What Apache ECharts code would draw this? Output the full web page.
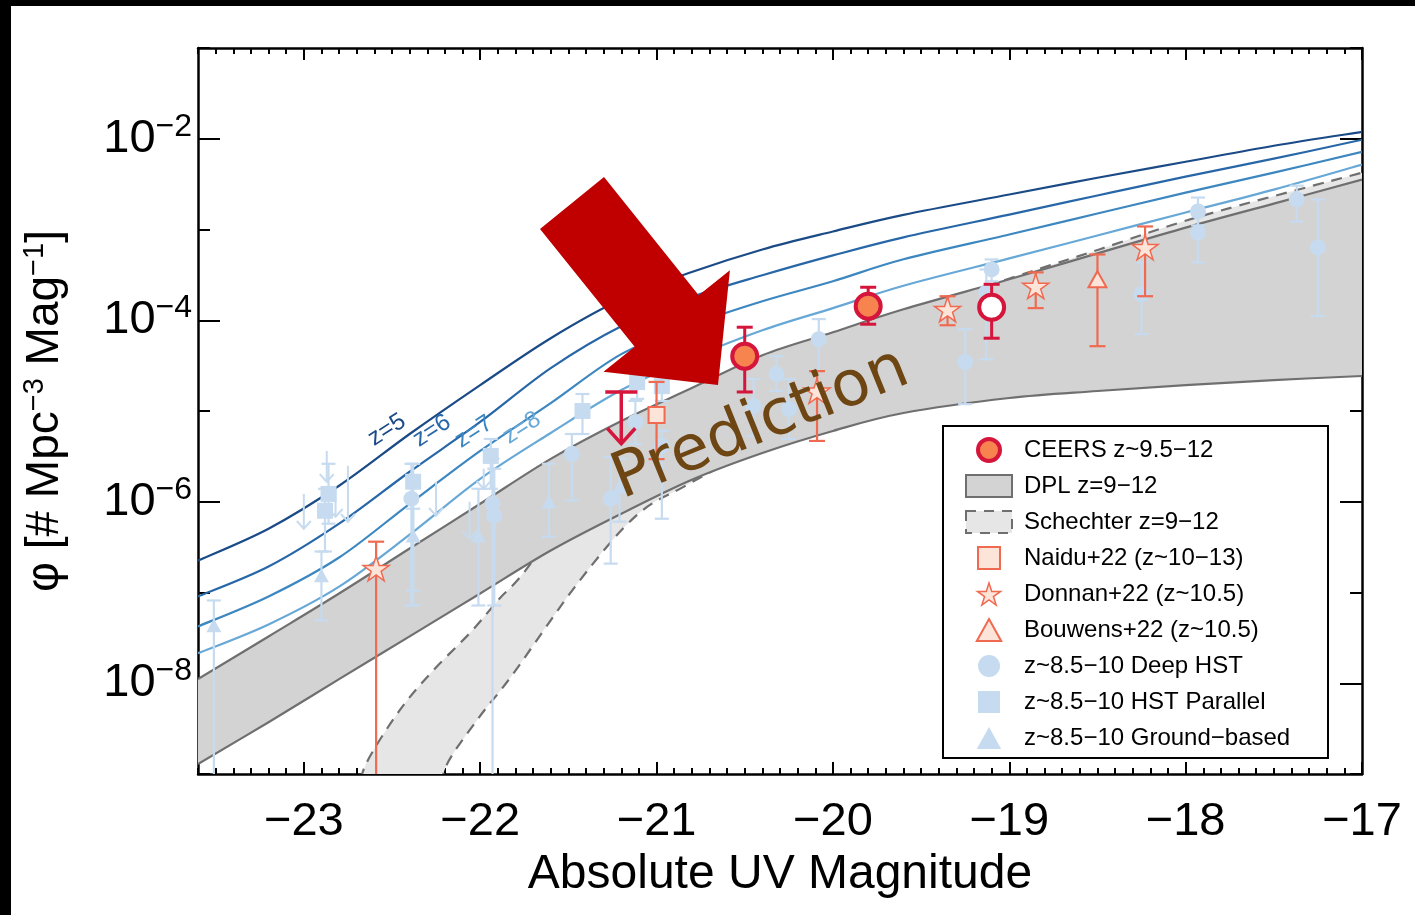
<!DOCTYPE html>
<html>
<head>
<meta charset="utf-8">
<script src="https://cdn.jsdelivr.net/npm/echarts@6/dist/echarts.min.js"></script>
<style>
  html, body { margin: 0; padding: 0; background: #fff; }
  #chart { width: 1415px; height: 915px; }
</style>
</head>
<body>
<div id="chart"></div>
<script>
// ---------------- data ----------------
// magnitude grid used by the model curves
const modelMag = [-23.6, -23.2, -22.8, -22.4, -22.0, -21.6, -21.2, -20.8, -20.4, -20.0, -19.6, -19.0, -18.5, -18.0, -17.5, -17.0];
// lower-z luminosity functions
const lfZ5 = [2.25e-7, 5.05e-7, 1.50e-6, 5.58e-6, 1.93e-5, 6.34e-5, 1.70e-4, 3.40e-4, 6.03e-4, 9.51e-4, 1.45e-3, 2.43e-3, 3.72e-3, 5.58e-3, 8.38e-3, 1.19e-2];
const lfZ6 = [9.04e-8, 1.93e-7, 5.73e-7, 2.14e-6, 7.57e-6, 2.97e-5, 8.59e-5, 1.80e-4, 3.13e-4, 5.18e-4, 8.20e-4, 1.46e-3, 2.37e-3, 3.82e-3, 6.03e-3, 9.75e-3];
const lfZ7 = [4.23e-8, 9.04e-8, 2.43e-7, 9.50e-7, 3.63e-6, 1.22e-5, 4.23e-5, 8.90e-5, 1.62e-4, 2.69e-4, 4.70e-4, 8.81e-4, 1.50e-3, 2.55e-3, 4.23e-3, 7.19e-3];
const lfZ8 = [2.14e-8, 4.45e-8, 1.16e-7, 4.34e-7, 1.79e-6, 5.73e-6, 1.70e-5, 3.85e-5, 7.76e-5, 1.36e-4, 2.40e-4, 4.80e-4, 8.59e-4, 1.54e-3, 2.75e-3, 5.18e-3];
// double power law range, z = 9-12
const dplUpper = [1.11e-8, 3.28e-8, 9.75e-8, 3.05e-7, 9.50e-7, 2.97e-6, 7.76e-6, 1.79e-5, 4.12e-5, 7.38e-5, 1.32e-4, 2.83e-4, 5.45e-4, 1.05e-3, 1.93e-3, 3.54e-3];
const dplLower = [1.29e-9, 3.72e-9, 1.11e-8, 3.28e-8, 9.75e-8, 2.90e-7, 7.38e-7, 1.75e-6, 3.45e-6, 6.03e-6, 9.50e-6, 1.39e-5, 1.66e-5, 1.93e-5, 2.19e-5, 2.43e-5];
// Schechter range, z = 9-12
const schUpperMag = [-22.69, -22.65, -22.46, -22.27, -22.05, -21.89, -21.78, -21.44, -20.76, -20.19, -19.62, -19.06, -18.77, -18.49, -17.92, -17.0];
const schUpper    = [5.44e-10, 1.26e-9, 4.92e-9, 1.36e-8, 3.72e-8, 8.59e-8, 1.43e-7, 8.38e-7, 8.17e-6, 3.72e-5, 1.08e-4, 2.62e-4, 4.02e-4, 6.03e-4, 1.39e-3, 4.23e-3];
const schLowerMag = [-22.23, -22.19, -22.01, -21.82, -21.44, -21.12, -20.85, -20.45, -19.90, -19.34, -18.49, -17.92, -17.0];
const schLower    = [5.44e-10, 1.26e-9, 4.12e-9, 1.22e-8, 1.32e-7, 6.9e-7, 1.45e-6, 3.6e-6, 8.5e-6, 1.7e-5, 4.23e-5, 7.02e-5, 1.50e-4];

// measurements: [M_UV, phi, phi_low, phi_high]
const ceers     = [[-20.5, 4.02e-5, 1.62e-5, 8.38e-5], [-19.8, 1.43e-4, 9.04e-5, 2.31e-4]];
const ceersOpen = [[-19.1, 1.39e-4, 6.34e-5, 2.49e-4]];
// upper limits: [M_UV, phi_limit, arrow_tip]
const ceersLimit = [[-21.2, 1.62e-5, 4.37e-6]];
const naidu   = [[-21.0, 9.04e-6, 2.95e-6, 2.09e-5]];
const donnan  = [[-22.59, 1.84e-7, 1e-10, 3.63e-7], [-20.09, 1.66e-5, 4.68e-6, 2.75e-5], [-19.35, 1.32e-4, 8.81e-5, 1.84e-4],
                 [-18.85, 2.37e-4, 1.36e-4, 3.37e-4], [-18.23, 6.34e-4, 1.84e-4, 1.08e-3]];
const bouwens = [[-18.5, 2.83e-4, 5.18e-5, 5.31e-4]];
const deepHST = [
  [-17.37, 2.14e-3, 1.22e-3, 3.04e-3], [-17.25, 6.34e-4, 1.11e-4, 2.14e-3], [-17.93, 1.58e-3, 1.11e-3, 2.25e-3],
  [-17.93, 9.27e-4, 4.34e-4, 1.50e-3], [-19.10, 3.63e-4, 2.69e-4, 4.68e-4], [-19.13, 2.03e-4, 3.72e-5, 3.63e-4],
  [-19.25, 3.45e-5, 1.19e-5, 7.96e-5], [-18.25, 1.93e-4, 7.02e-5, 4.34e-4], [-20.08, 6.18e-5, 2.75e-5, 1.03e-4],
  [-20.32, 2.55e-5, 1.66e-5, 4.02e-5], [-20.25, 1.05e-5, 4.92e-6, 2.25e-5], [-20.45, 1.13e-5, 5.31e-6, 2.25e-5],
  [-20.97, 4.12e-6, 6.50e-7, 6.03e-6], [-21.12, 7.57e-6, 4.34e-6, 1.29e-5], [-21.48, 3.37e-6, 1.03e-6, 5.58e-6],
  [-21.26, 1.08e-6, 2.08e-7, 3.12e-6], [-21.93, 9.50e-7, 1e-10, 2.97e-6], [-21.92, 7.02e-7, 7.19e-8, 2.31e-6],
  [-22.39, 1.08e-6, 7.19e-8, 2.62e-6]
];
const hstParallel = [
  [-22.86, 1.22e-6, 5.73e-7, 2.62e-6], [-22.88, 7.96e-7, 2.83e-7, 1.39e-6], [-22.38, 1.66e-6, 7.19e-8, 2.62e-6],
  [-21.94, 3.20e-6, 1.39e-6, 4.92e-6], [-21.42, 1.00e-5, 5.58e-6, 1.54e-5], [-21.11, 2.08e-5, 1.36e-5, 2.90e-5],
  [-20.97, 1.88e-5, 1.29e-5, 2.75e-5]
];
const groundBased = [
  [-23.51, 4.34e-8, 1e-10, 8.17e-8], [-22.90, 1.54e-7, 4.92e-8, 2.83e-7], [-22.38, 4.23e-7, 1.05e-7, 8.38e-7],
  [-22.01, 4.23e-7, 7.19e-8, 1.39e-6], [-21.61, 1.00e-6, 4.12e-7, 2.62e-6], [-21.21, 1.46e-6, 6.03e-7, 2.97e-6]
];
const hstLimits = [
  [-23.00, 1.22e-6, 5.05e-7], [-22.87, 3.63e-6, 1.66e-6], [-22.75, 2.49e-6, 6.03e-7], [-22.82, 1.39e-6, 6.84e-7],
  [-22.25, 1.66e-6, 7.02e-7], [-22.06, 1.00e-6, 3.92e-7], [-21.98, 2.31e-6, 1.39e-6]
];

// axis ticks
const magTicks = [-23, -22, -21, -20, -19, -18, -17];
const phiLabelTicks = [1e-8, 1e-6, 1e-4, 1e-2];

// series names
const N_CEERS = 'CEERS z~9.5\u221212';
const N_DPL = 'DPL z=9\u221212';
const N_SCH = 'Schechter z=9\u221212';
const N_NAIDU = 'Naidu+22 (z~10\u221213)';
const N_DONNAN = 'Donnan+22 (z~10.5)';
const N_BOUWENS = 'Bouwens+22 (z~10.5)';
const N_DEEP = 'z~8.5\u221210 Deep HST';
const N_PAR = 'z~8.5\u221210 HST Parallel';
const N_GROUND = 'z~8.5\u221210 Ground\u2212based';

// ---------------- styling ----------------
const FONT = 'Liberation Sans, Arial, Helvetica, sans-serif';
const CRIMSON = '#d5153b', ORANGE = '#f7844f';
const CORAL = '#ef6a50', CORAL_FILL = '#fde4d9';
const PALE = '#c6dbef';
const GRAY_EDGE = '#6f6f6f';
const zColors = ['#1b4b87', '#2767a8', '#3d87c1', '#67a8d6'];
const STAR = 'path://M50 0 L61.23 34.55 L97.55 34.55 L68.17 55.9 L79.39 90.45 L50 69.1 L20.61 90.45 L31.83 55.9 L2.45 34.55 L38.77 34.55 Z';
const SQUARE = 'path://M0 0 H10 V10 H0 Z';
const TRIANGLE = 'path://M5 0 L10 9 L0 9 Z';

// smooth cubic segments through screen points (Catmull-Rom)
function curveSegments(p) {
  let d = '';
  for (let i = 0; i < p.length - 1; i++) {
    const p0 = p[i - 1] || p[i], p1 = p[i], p2 = p[i + 1], p3 = p[i + 2] || p[i + 1];
    const c1x = p1[0] + (p2[0] - p0[0]) / 6, c1y = p1[1] + (p2[1] - p0[1]) / 6;
    const c2x = p2[0] - (p3[0] - p1[0]) / 6, c2y = p2[1] - (p3[1] - p1[1]) / 6;
    d += ' C' + c1x + ' ' + c1y + ' ' + c2x + ' ' + c2y + ' ' + p2[0] + ' ' + p2[1];
  }
  return d;
}
function toPts(api, mags, vals) { return mags.map((m, i) => api.coord([m, vals[i]])); }
function openPath(p) { return 'M' + p[0][0] + ' ' + p[0][1] + curveSegments(p); }

function bandSeries(name, upMag, up, loMag, lo, fill, edgeDash, z) {
  return {
    type: 'custom', name: name, coordinateSystem: 'cartesian2d', clip: true, z: z, silent: true,
    data: [[upMag[0], up[0]]],
    renderItem: function (params, api) {
      const a = toPts(api, upMag, up);
      const b = toPts(api, loMag, lo).reverse();
      const area = openPath(a) + ' L' + b[0][0] + ' ' + b[0][1] + curveSegments(b) + ' Z';
      const edgeStyle = { fill: 'none', stroke: GRAY_EDGE, lineWidth: 2.2, lineDash: edgeDash };
      return { type: 'group', children: [
        { type: 'path', shape: { pathData: area }, style: { fill: fill, stroke: 'none' } },
        { type: 'path', shape: { pathData: openPath(a) }, style: edgeStyle },
        { type: 'path', shape: { pathData: openPath(b) }, style: edgeStyle }
      ] };
    }
  };
}

function curveSeries(vals, color) {
  return {
    type: 'custom', coordinateSystem: 'cartesian2d', clip: true, z: 3, silent: true,
    data: [[modelMag[0], vals[0]]],
    renderItem: function (params, api) {
      return { type: 'path', shape: { pathData: openPath(toPts(api, modelMag, vals)) },
        style: { fill: 'none', stroke: color, lineWidth: 2.2 } };
    }
  };
}

function errorSeries(rows, color, width, cap, z) {
  return {
    type: 'custom', coordinateSystem: 'cartesian2d', clip: true, z: z, silent: true,
    data: rows.map(r => [r[0], r[2], r[3]]),
    encode: { x: 0, y: [1, 2] },
    renderItem: function (params, api) {
      const m = api.value(0);
      const lo = api.coord([m, api.value(1)]);
      const hi = api.coord([m, api.value(2)]);
      const st = { stroke: color, lineWidth: width };
      return { type: 'group', children: [
        { type: 'line', shape: { x1: lo[0], y1: lo[1], x2: hi[0], y2: hi[1] }, style: st },
        { type: 'line', shape: { x1: hi[0] - cap, y1: hi[1], x2: hi[0] + cap, y2: hi[1] }, style: st },
        { type: 'line', shape: { x1: lo[0] - cap, y1: lo[1], x2: lo[0] + cap, y2: lo[1] }, style: st }
      ] };
    }
  };
}

function limitSeries(rows, color, width, cap, head, z) {
  return {
    type: 'custom', coordinateSystem: 'cartesian2d', clip: true, z: z, silent: true,
    data: rows,
    encode: { x: 0, y: [1, 2] },
    renderItem: function (params, api) {
      const m = api.value(0);
      const top = api.coord([m, api.value(1)]);
      const tip = api.coord([m, api.value(2)]);
      const st = { stroke: color, lineWidth: width, fill: 'none' };
      const kids = [
        { type: 'line', shape: { x1: top[0], y1: top[1], x2: tip[0], y2: tip[1] }, style: st },
        { type: 'polyline', shape: { points: [[tip[0] - head, tip[1] - head * 1.1], [tip[0], tip[1]], [tip[0] + head, tip[1] - head * 1.1]] }, style: st }
      ];
      if (cap > 0) kids.push({ type: 'line', shape: { x1: top[0] - cap, y1: top[1], x2: top[0] + cap, y2: top[1] }, style: st });
      return { type: 'group', children: kids };
    }
  };
}

function markerSeries(name, rows, symbol, size, fill, edge, edgeWidth, z) {
  return {
    type: 'scatter', name: name, z: z, symbol: symbol, symbolSize: size, symbolKeepAspect: true, silent: true,
    itemStyle: { color: fill, borderColor: edge, borderWidth: edgeWidth, opacity: 1 },
    data: rows.map(r => [r[0], r[1]])
  };
}

function phiLabel(v) {
  const e = Math.round(Math.log10(v));
  return '10{sup|\u2212' + Math.abs(e) + '}';
}

const axisLineStyle = { color: '#000', width: 2.5 };
const tickLine = { color: '#000', width: 2 };
const xBase = { type: 'value', min: -23.6, max: -17, splitLine: { show: false }, gridIndex: 0 };
const yBase = { type: 'log', logBase: 10, min: 1e-9, max: 1e-1, splitLine: { show: false }, minorTick: { show: false }, gridIndex: 0 };
const zRot = 33 * Math.PI / 180;

const option = {
  animation: false,
  backgroundColor: '#fff',
  grid: { left: 198, top: 48, width: 1164, height: 726, containLabel: false, outerBoundsMode: 'none' },
  xAxis: [
    Object.assign({}, xBase, {
      position: 'bottom',
      axisLine: { show: true, lineStyle: axisLineStyle },
      axisTick: { show: true, inside: true, length: 12, lineStyle: tickLine, customValues: magTicks },
      axisLabel: { show: true, customValues: magTicks, formatter: v => '\u2212' + Math.abs(v), fontSize: 47, fontFamily: FONT, color: '#000', margin: 25 },
      name: 'Absolute UV Magnitude', nameLocation: 'middle', nameGap: 77,
      nameTextStyle: { fontSize: 48, fontFamily: FONT, color: '#000' }
    }),
    Object.assign({}, xBase, {
      position: 'bottom', interval: 0.1,
      axisLine: { show: false }, axisTick: { show: true, inside: true, length: 6, lineStyle: tickLine }, axisLabel: { show: false }
    }),
    Object.assign({}, xBase, {
      position: 'top',
      axisLine: { show: true, lineStyle: axisLineStyle },
      axisTick: { show: true, inside: true, length: 12, lineStyle: tickLine, customValues: magTicks }, axisLabel: { show: false }
    }),
    Object.assign({}, xBase, {
      position: 'top', interval: 0.1,
      axisLine: { show: false }, axisTick: { show: true, inside: true, length: 6, lineStyle: tickLine }, axisLabel: { show: false }
    })
  ],
  yAxis: [
    Object.assign({}, yBase, {
      position: 'left',
      axisLine: { show: true, lineStyle: axisLineStyle },
      axisTick: { show: true, inside: true, length: 12, lineStyle: tickLine },
      axisLabel: { show: false },
      name: '\u03c6 [# Mpc{s|\u22123} Mag{s|\u22121}]', nameLocation: 'middle', nameGap: 128,
      nameTextStyle: { fontSize: 46, fontFamily: FONT, color: '#000', lineHeight: 50,
        rich: { s: { fontSize: 29, fontFamily: FONT, color: '#000', verticalAlign: 'top', lineHeight: 28 } } }
    }),
    Object.assign({}, yBase, {
      position: 'left',
      axisLine: { show: false },
      axisTick: { show: true, inside: true, length: 22, lineStyle: tickLine, customValues: phiLabelTicks },
      axisLabel: { show: true, customValues: phiLabelTicks, formatter: phiLabel, margin: 6,
        fontSize: 47, fontFamily: FONT, color: '#000', lineHeight: 56,
        rich: { sup: { fontSize: 32, fontFamily: FONT, color: '#000', verticalAlign: 'top', lineHeight: 32 } } }
    }),
    Object.assign({}, yBase, {
      position: 'right',
      axisLine: { show: true, lineStyle: axisLineStyle },
      axisTick: { show: true, inside: true, length: 12, lineStyle: tickLine }, axisLabel: { show: false }
    }),
    Object.assign({}, yBase, {
      position: 'right',
      axisLine: { show: false },
      axisTick: { show: true, inside: true, length: 22, lineStyle: tickLine, customValues: phiLabelTicks }, axisLabel: { show: false }
    })
  ],
  legend: {
    orient: 'vertical', left: 943, top: 426, padding: [11, 15, 7, 22], itemGap: 10, itemWidth: 46, itemHeight: 22,
    backgroundColor: '#fff', borderColor: '#000', borderWidth: 2, selectedMode: false, z: 20,
    textStyle: { fontSize: 24, fontFamily: FONT, color: '#000', lineHeight: 26, width: 289, padding: [0, 0, 0, 7] },
    data: [
      { name: N_CEERS, icon: 'circle', itemStyle: { color: ORANGE, borderColor: CRIMSON, borderWidth: 4 } },
      { name: N_DPL, icon: 'rect', itemStyle: { color: '#d3d3d3', borderColor: GRAY_EDGE, borderWidth: 2 } },
      { name: N_SCH, icon: 'rect', itemStyle: { color: '#e6e6e6', borderColor: GRAY_EDGE, borderWidth: 2, borderType: [10, 8] } },
      { name: N_NAIDU, icon: SQUARE, itemStyle: { color: CORAL_FILL, borderColor: CORAL, borderWidth: 2 } },
      { name: N_DONNAN, icon: STAR, itemStyle: { color: CORAL_FILL, borderColor: CORAL, borderWidth: 1.5 } },
      { name: N_BOUWENS, icon: TRIANGLE, itemStyle: { color: CORAL_FILL, borderColor: CORAL, borderWidth: 2 } },
      { name: N_DEEP, icon: 'circle', itemStyle: { color: PALE, borderWidth: 0 } },
      { name: N_PAR, icon: SQUARE, itemStyle: { color: PALE, borderWidth: 0 } },
      { name: N_GROUND, icon: TRIANGLE, itemStyle: { color: PALE, borderWidth: 0 } }
    ]
  },
  series: [
    bandSeries(N_SCH, schUpperMag, schUpper, schLowerMag, schLower, '#e6e6e6', [11, 8], 1),
    bandSeries(N_DPL, modelMag, dplUpper, modelMag, dplLower, '#d3d3d3', null, 2),
    curveSeries(lfZ5, zColors[0]), curveSeries(lfZ6, zColors[1]), curveSeries(lfZ7, zColors[2]), curveSeries(lfZ8, zColors[3]),
    errorSeries(deepHST, PALE, 2.2, 7, 4), errorSeries(hstParallel, PALE, 2.2, 7, 4), errorSeries(groundBased, PALE, 2.2, 7, 4),
    limitSeries(hstLimits, PALE, 2, 0, 7, 4),
    markerSeries(N_DEEP, deepHST, 'circle', 16, PALE, PALE, 0, 5),
    markerSeries(N_PAR, hstParallel, SQUARE, 16, PALE, PALE, 0, 5),
    markerSeries(N_GROUND, groundBased, TRIANGLE, 15, PALE, PALE, 0, 5),
    errorSeries(naidu, CORAL, 2.2, 8, 6), errorSeries(donnan, CORAL, 2.2, 8, 6), errorSeries(bouwens, CORAL, 2.2, 8, 6),
    markerSeries(N_NAIDU, naidu, SQUARE, 16, CORAL_FILL, CORAL, 2, 7),
    markerSeries(N_DONNAN, donnan, STAR, 26, CORAL_FILL, CORAL, 1.5, 7),
    markerSeries(N_BOUWENS, bouwens, TRIANGLE, 18, CORAL_FILL, CORAL, 2, 7),
    errorSeries(ceers, CRIMSON, 3, 8, 8), errorSeries(ceersOpen, CRIMSON, 3, 8, 8),
    limitSeries(ceersLimit, CRIMSON, 3.5, 16, 14, 8),
    markerSeries(N_CEERS, ceers, 'circle', 25, ORANGE, CRIMSON, 4, 9),
    markerSeries(N_CEERS, ceersOpen, 'circle', 25, '#fff', CRIMSON, 4, 9)
  ],
  graphic: [
    { type: 'rect', z: 200, shape: { x: 0, y: 0, width: 1415, height: 6 }, style: { fill: '#000' } },
    { type: 'rect', z: 200, shape: { x: 0, y: 0, width: 11, height: 915 }, style: { fill: '#000' } },
    { type: 'text', z: 50, x: 387, y: 430, rotation: zRot, style: { text: 'z=5', fill: zColors[0], font: '24px ' + FONT, align: 'center', verticalAlign: 'middle' } },
    { type: 'text', z: 50, x: 432, y: 431, rotation: zRot, style: { text: 'z=6', fill: zColors[1], font: '24px ' + FONT, align: 'center', verticalAlign: 'middle' } },
    { type: 'text', z: 50, x: 474, y: 432, rotation: zRot, style: { text: 'z=7', fill: zColors[2], font: '24px ' + FONT, align: 'center', verticalAlign: 'middle' } },
    { type: 'text', z: 50, x: 522, y: 428, rotation: zRot, style: { text: 'z=8', fill: zColors[3], font: '24px ' + FONT, align: 'center', verticalAlign: 'middle' } },
    { type: 'polygon', z: 100, shape: { points: [[540, 229], [604, 177], [698.7, 295.3], [729.9, 270.3], [718, 385], [603.5, 371.7], [634.7, 346.7]] }, style: { fill: '#c00000' } },
    { type: 'text', z: 101, x: 761, y: 425, rotation: 22 * Math.PI / 180, style: { text: 'Prediction', fill: '#6e4614', font: '63px "DejaVu Sans", sans-serif', align: 'center', verticalAlign: 'middle' } }
  ]
};

const chart = echarts.init(document.getElementById('chart'), null, { renderer: 'canvas' });
chart.setOption(option);
</script>
</body>
</html>
